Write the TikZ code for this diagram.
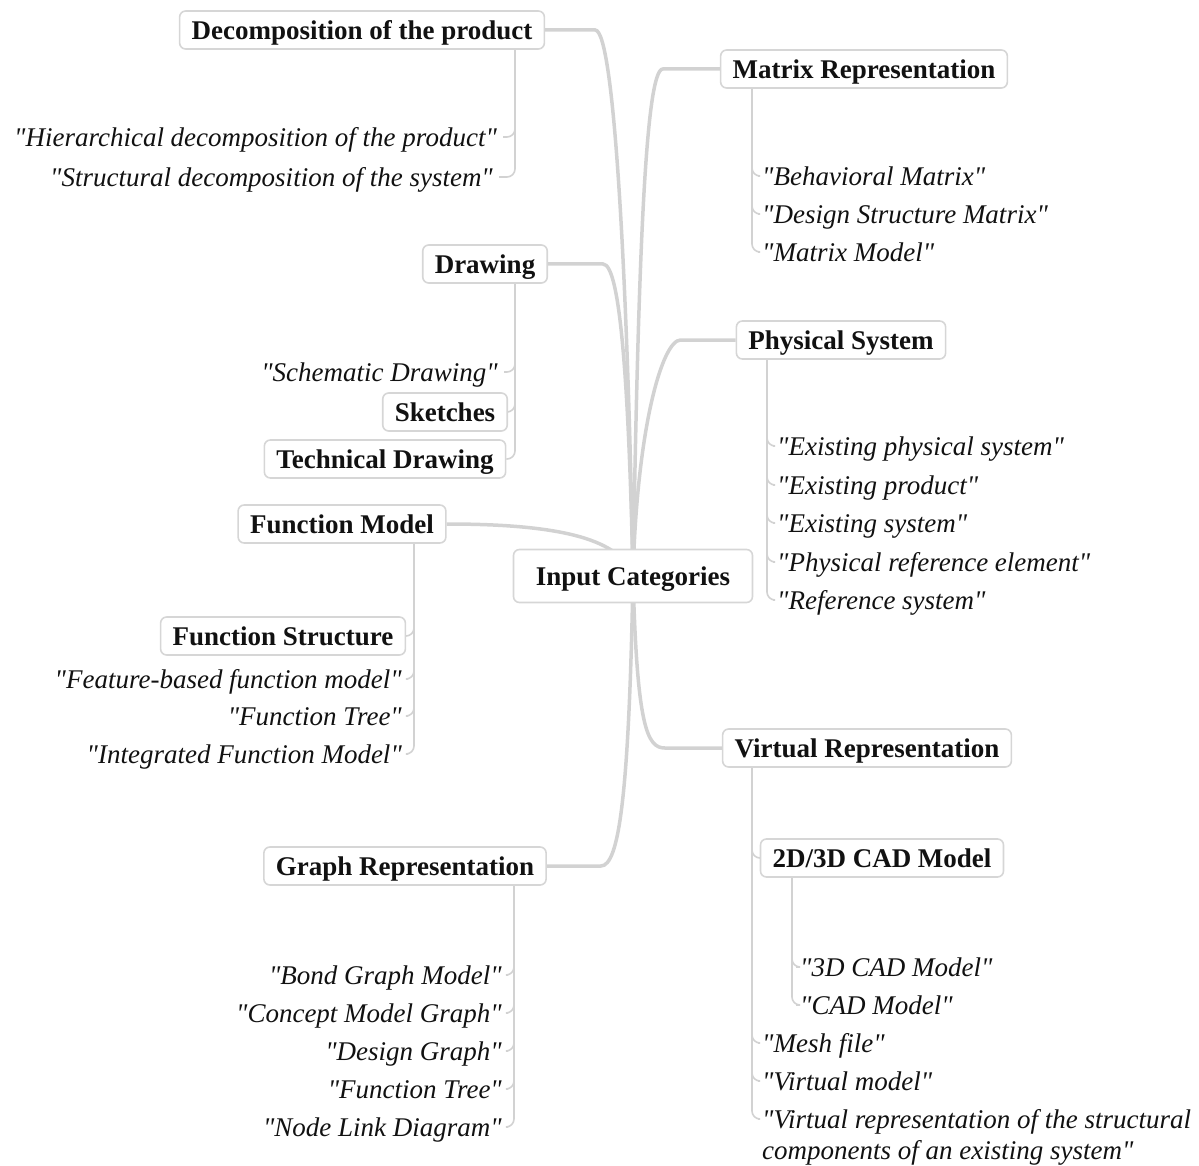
\documentclass[tikz,border=0pt]{standalone}
\usepackage{fontspec}
\setmainfont{Liberation Serif}[Ligatures=TeXOff]
\usetikzlibrary{backgrounds,calc}
\definecolor{linegray}{HTML}{D2D2D2}
\definecolor{boxgray}{HTML}{D6D6D6}
\definecolor{txt}{HTML}{111111}
\tikzset{
  box/.style={draw=boxgray, line width=1.6pt, rounded corners=6pt, fill=white,
    font=\fontsize{27}{31}\selectfont\bfseries, text=txt, minimum height=38pt,
    inner xsep=12pt, inner ysep=0pt, text height=22pt, text depth=3pt},
  leaf/.style={font=\fontsize{27}{31}\selectfont\itshape, inner sep=0pt, text=txt,
    text height=22pt, text depth=3pt},
  mainline/.style={draw=linegray, line width=3.5pt},
  subline/.style={draw=linegray, line width=1.6pt, rounded corners=8pt}
}
\begin{document}
\begin{tikzpicture}[x=1pt,y=-1pt]
\useasboundingbox (0,0) rectangle (1199,1166);
% main nodes
\node[box, minimum width=239pt, minimum height=53pt] (ic) at (633,576) {Input Categories};
\node[box] (dec) at (362,30) {Decomposition of the product};
\node[box] (mat) at (864,69) {Matrix Representation};
\node[box] (drw) at (485,264) {Drawing};
\node[box] (phy) at (841,340) {Physical System};
\node[box] (fm) at (342,524) {Function Model};
\node[box] (vr) at (867,748) {Virtual Representation};
\node[box] (gr) at (405,866) {Graph Representation};
% sub boxes
\node[box] (sk) at (445,412) {Sketches};
\node[box] (td) at (385,459) {Technical Drawing};
\node[box] (fs) at (283,636) {Function Structure};
\node[box] (cad) at (882,858) {2D/3D CAD Model};
% leaves left
\node[leaf, anchor=east] (hier) at (497,137) {"Hierarchical decomposition of the product"};
\node[leaf, anchor=east] (struc) at (493,177) {"Structural decomposition of the system"};
\node[leaf, anchor=east] (schem) at (498,372) {"Schematic Drawing"};
\node[leaf, anchor=east] (feat) at (402,679) {"Feature-based function model"};
\node[leaf, anchor=east] (ftree) at (402,716) {"Function Tree"};
\node[leaf, anchor=east] (ifm) at (402,754) {"Integrated Function Model"};
\node[leaf, anchor=east] (bond) at (502,975) {"Bond Graph Model"};
\node[leaf, anchor=east] (cmg) at (502,1013) {"Concept Model Graph"};
\node[leaf, anchor=east] (dg) at (502,1051) {"Design Graph"};
\node[leaf, anchor=east] (ftg) at (502,1089) {"Function Tree"};
\node[leaf, anchor=east] (nld) at (502,1127) {"Node Link Diagram"};
% leaves right
\node[leaf, anchor=west] (bm) at (762,176) {"Behavioral Matrix"};
\node[leaf, anchor=west] (dsm) at (762,214) {"Design Structure Matrix"};
\node[leaf, anchor=west] (mm) at (762,252) {"Matrix Model"};
\node[leaf, anchor=west] (eps) at (777,446) {"Existing physical system"};
\node[leaf, anchor=west] (ep) at (777,485) {"Existing product"};
\node[leaf, anchor=west] (es) at (777,523) {"Existing system"};
\node[leaf, anchor=west] (pre) at (777,562) {"Physical reference element"};
\node[leaf, anchor=west] (rs) at (777,600) {"Reference system"};
\node[leaf, anchor=west] (cad3) at (800,967) {"3D CAD Model"};
\node[leaf, anchor=west] (cadm) at (800,1005) {"CAD Model"};
\node[leaf, anchor=west] (mesh) at (762,1043) {"Mesh file"};
\node[leaf, anchor=west] (vm) at (762,1081) {"Virtual model"};
\node[leaf, anchor=west] (vrep) at (762,1119) {"Virtual representation of the structural};
\node[leaf, anchor=west] (vrep2) at (762,1150) {components of an existing system"};
% vertical guide coordinates
\coordinate (decv) at (515,0);
\coordinate (drwv) at (515,0);
\coordinate (fmv) at (414,0);
\coordinate (grv) at (514,0);
\coordinate (matv) at (752,0);
\coordinate (phyv) at (767,0);
\coordinate (vrv) at (752,0);
\coordinate (cadv) at (792,0);
\begin{scope}[on background layer]
% main connectors
\draw[mainline] (dec.east) -- ++(50,0) .. controls +(20,0) and +(-5,-276) .. (ic.center);
\draw[mainline] (mat.west) -- ++(-57,0) .. controls +(-18,0) and +(5,-300) .. (ic.center);
\draw[mainline] (drw.east) -- ++(55,0) .. controls +(18,0) and +(-4,-180) .. (ic.center);
\draw[mainline] (phy.west) -- ++(-55,0) .. controls +(-18,0) and +(4,-150) .. (ic.center);
\draw[mainline] (fm.east) .. controls +(120,0) and +(-12,-35) .. (ic.center);
\draw[mainline] (vr.west) -- ++(-57,0) .. controls +(-18,0) and +(4,150) .. (ic.center);
\draw[mainline] (gr.east) -- ++(54,0) .. controls +(18,0) and +(-4,220) .. (ic.center);
% sub connectors
\foreach \l in {hier,struc}
  \draw[subline] (dec.south -| decv) |- ([xshift=6pt]\l.east);
\draw[subline] (drw.south -| drwv) |- ([xshift=6pt]schem.east);
\draw[subline] (drw.south -| drwv) |- (sk.east);
\draw[subline] (drw.south -| drwv) |- (td.east);
\draw[subline] (fm.south -| fmv) |- (fs.east);
\foreach \l in {feat,ftree,ifm}
  \draw[subline] (fm.south -| fmv) |- ([xshift=6pt]\l.east);
\foreach \l in {bond,cmg,dg,ftg,nld}
  \draw[subline] (gr.south -| grv) |- ([xshift=6pt]\l.east);
\foreach \l in {bm,dsm,mm}
  \draw[subline] (mat.south -| matv) |- ([xshift=-4pt]\l.west);
\foreach \l in {eps,ep,es,pre,rs}
  \draw[subline] (phy.south -| phyv) |- ([xshift=-4pt]\l.west);
\draw[subline] (vr.south -| vrv) |- (cad.west);
\foreach \l in {mesh,vm,vrep}
  \draw[subline] (vr.south -| vrv) |- ([xshift=-4pt]\l.west);
\foreach \l in {cad3,cadm}
  \draw[subline] (cad.south -| cadv) |- ([xshift=-4pt]\l.west);
\end{scope}
\end{tikzpicture}
\end{document}
